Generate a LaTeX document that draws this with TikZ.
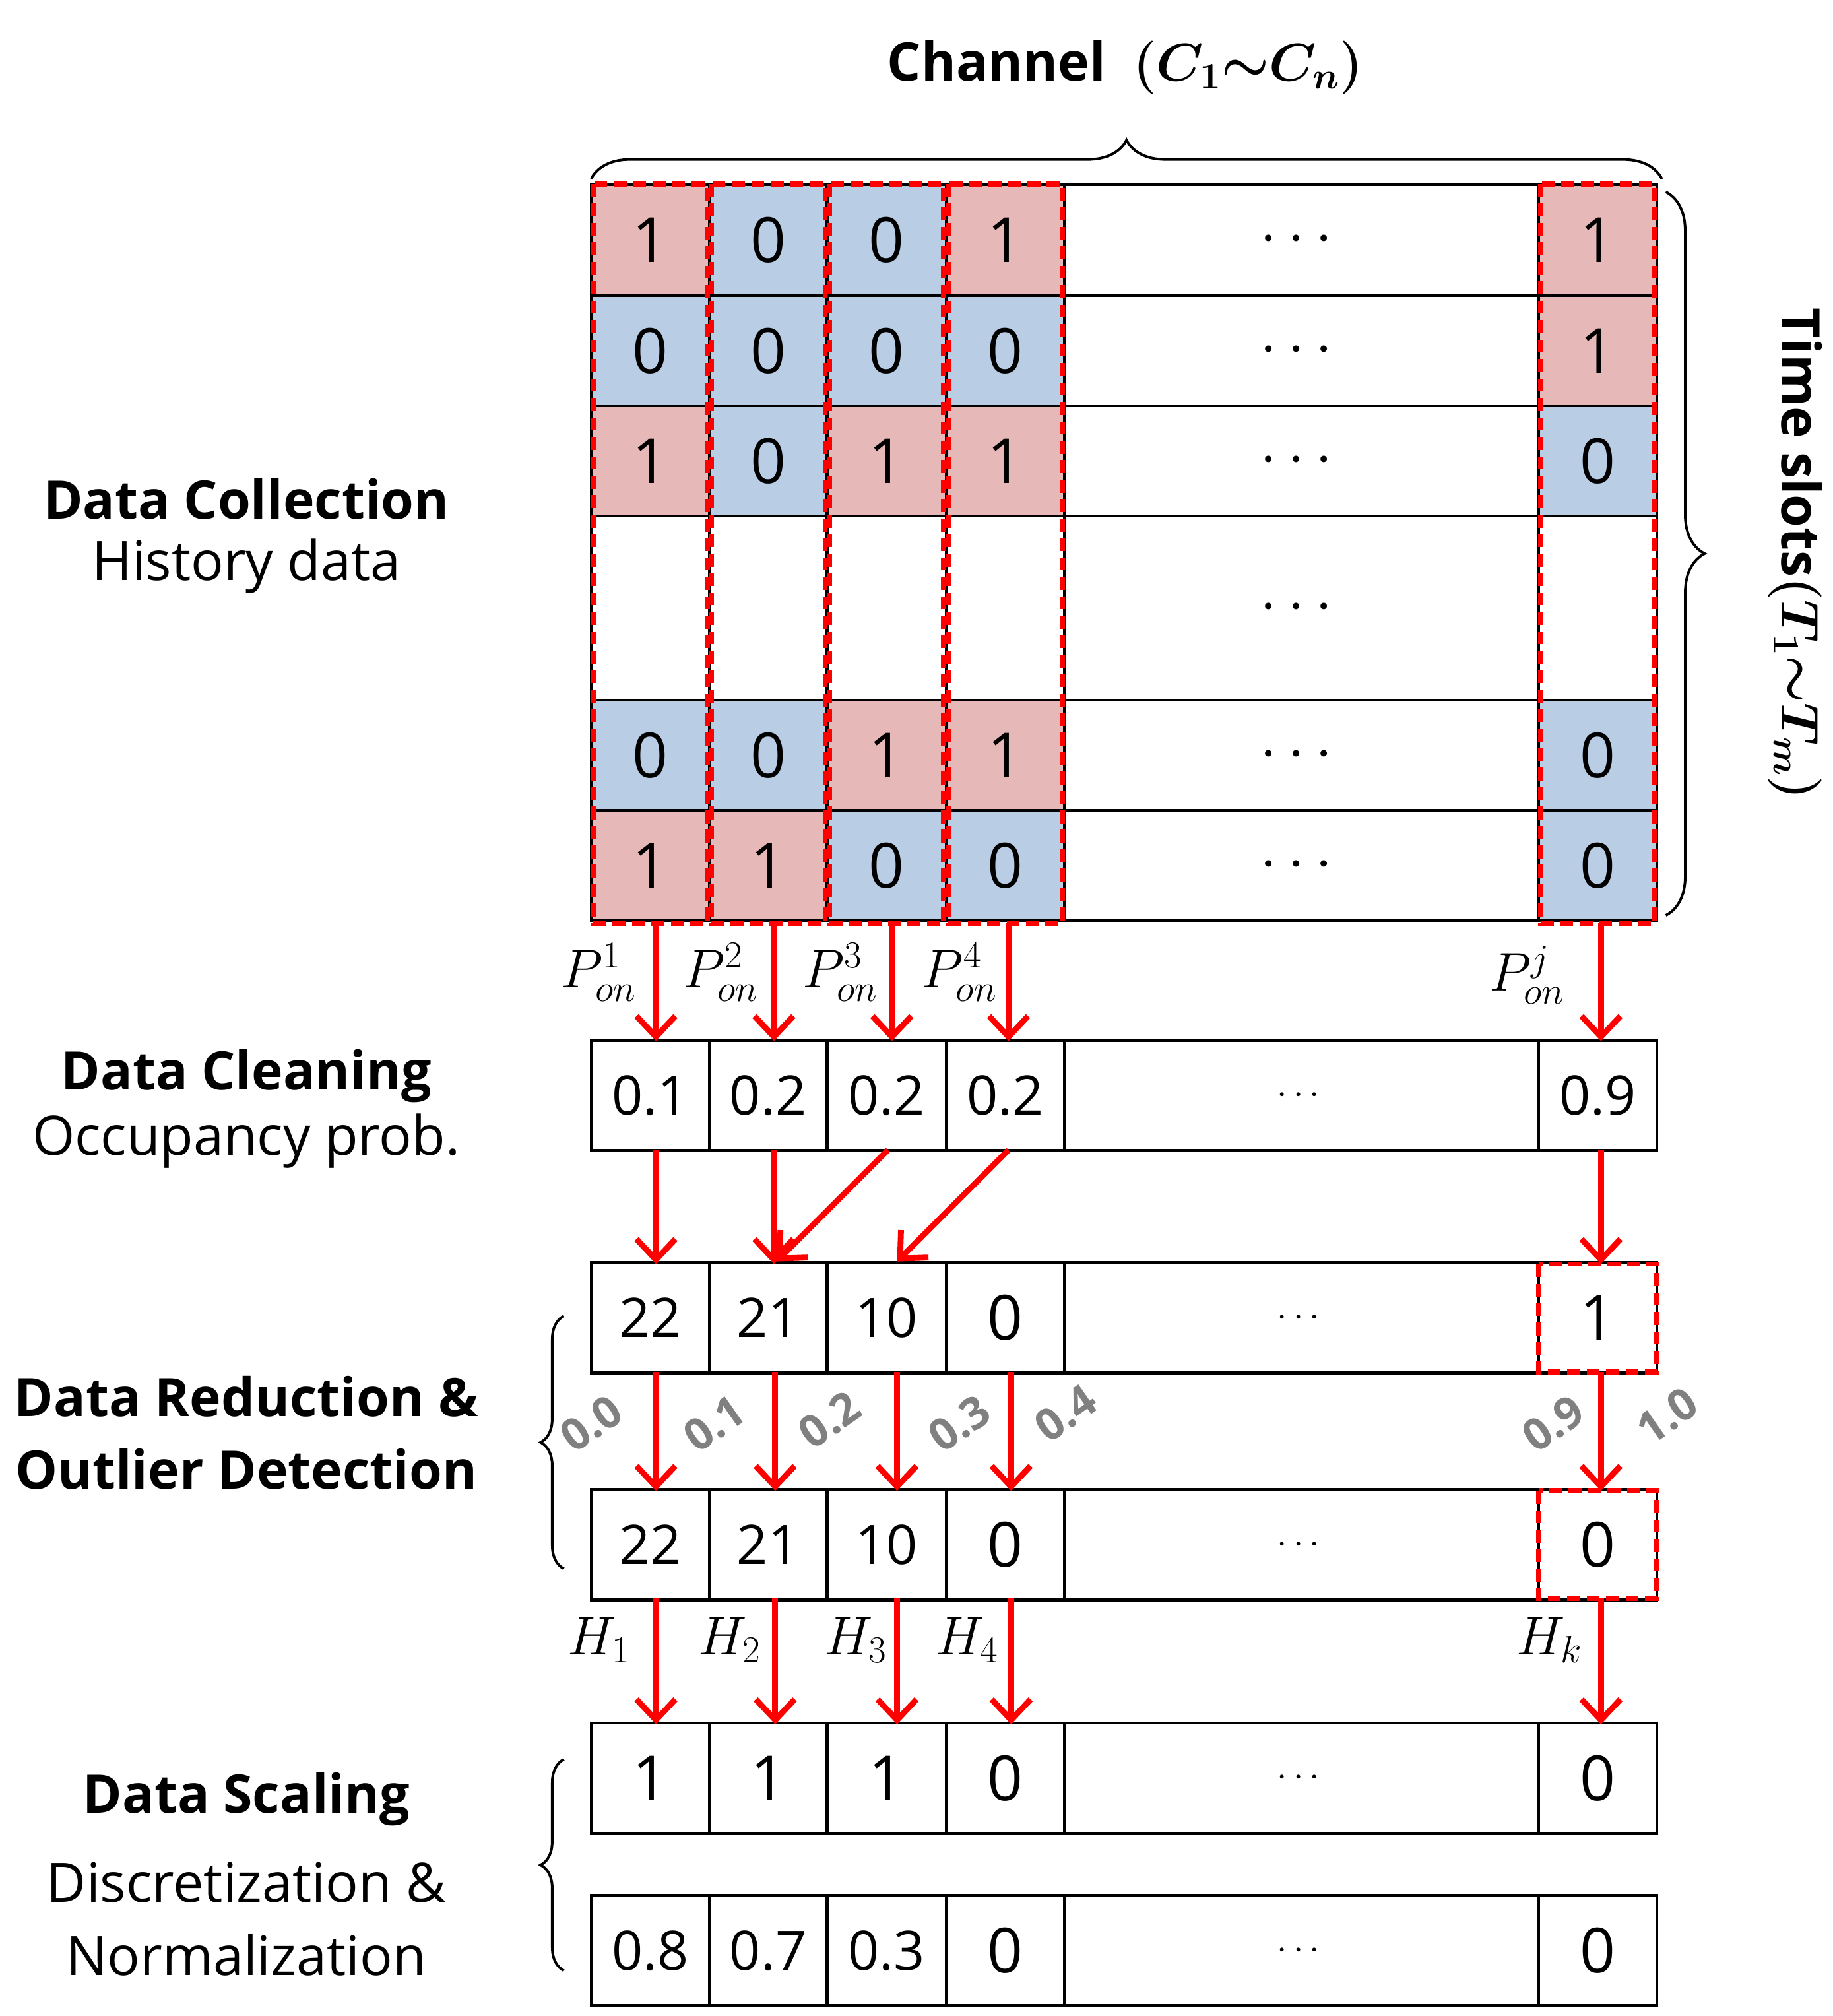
\RequirePackage{fix-cm}
\documentclass[tikz,border=0pt]{standalone}
\usepackage{amsmath,bm}
\usepackage{fontspec}
\setmainfont{Open Sans}
\usetikzlibrary{decorations.pathreplacing,arrows.meta}
\definecolor{pk}{HTML}{E6B9B8}
\definecolor{bl}{HTML}{B9CDE5}
\definecolor{rd}{HTML}{FF0000}
\begin{document}
\begin{tikzpicture}[x=1pt,y=-1pt,
 cell/.style={draw,line width=2.2pt,inner sep=0,minimum height=#1,font=\fontsize{48}{56}\selectfont},
 cell/.default=85,
 arr/.style={draw=rd,line width=4.5pt,-{Straight Barb[length=16pt,width=30pt,line width=4.5pt]}},
 dbox/.style={draw=rd,line width=4pt,dash pattern=on 10pt off 5pt},
 lab/.style={font=\fontsize{42}{52}\selectfont},
 labb/.style={font=\fontsize{41}{52}\selectfont\bfseries},
 gl/.style={text=gray,font=\fontsize{34}{40}\selectfont\bfseries,rotate=35},
 ml/.style={font=\fontsize{42}{48}\selectfont},
 br/.style={draw,line width=2pt,decorate,decoration={brace,amplitude=#1}},
 br/.default=18pt]
\useasboundingbox (0,0) rectangle (1414,1555);
\def\xs{{501.5,592.5,684,775.5,1004,1232.5}}
\def\ws{{91,91,92,91,366,91}}
\def\gridrow#1#2#3#4{%
 \foreach \v/\fc [count=\i from 0] in {#4} {
   \pgfmathsetmacro\cx{\xs[\i]}\pgfmathsetmacro\cw{\ws[\i]}
   \node[cell=#3,minimum width=\cw,fill=\fc] (#1\i) at (\cx,#2) {\v};
 }}
\def\dd{$\cdots$}
\gridrow{ga}{185}{85}{1/pk,0/bl,0/bl,1/pk,\dd/white,1/pk}
\gridrow{gb}{270.5}{85}{0/bl,0/bl,0/bl,0/bl,\dd/white,1/pk}
\gridrow{gc}{355.5}{85}{1/pk,0/bl,1/pk,1/pk,\dd/white,0/bl}
\gridrow{gd}{469}{142}{{}/white,{}/white,{}/white,{}/white,\dd/white,{}/white}
\gridrow{ge}{582.5}{85}{0/bl,0/bl,1/pk,1/pk,\dd/white,0/bl}
\gridrow{gf}{667.5}{85}{1/pk,1/pk,0/bl,0/bl,\dd/white,0/bl}
\foreach \i in {0,1,2,3,5}{
 \pgfmathsetmacro\cx{\xs[\i]}
 \draw[dbox] (\cx-44,142) rectangle (\cx+44,712);}
\def\plainrow#1#2#3{\foreach \v [count=\i from 0] in {#3} {
   \pgfmathsetmacro\cx{\xs[\i]}\pgfmathsetmacro\cw{\ws[\i]}
   \node[cell,minimum width=\cw,fill=white] (#1\i) at (\cx,#2) {\v};}}
\def\ds{{\fontsize{28}{30}\selectfont$\cdots$}}
\def\n#1{{\fontsize{42}{48}\selectfont #1}}
\plainrow{cl}{845}{\n{0.1},\n{0.2},\n{0.2},\n{0.2},\ds,\n{0.9}}
\plainrow{ra}{1016.5}{\n{22},\n{21},\n{10},0,\ds,1}
\plainrow{rb}{1191.5}{\n{22},\n{21},\n{10},0,\ds,0}
\plainrow{sa}{1371.5}{1,1,1,0,\ds,0}
\plainrow{sb}{1504.5}{\n{0.8},\n{0.7},\n{0.3},0,\ds,0}
\draw[dbox] (1187,975) rectangle (1278,1058);
\draw[dbox] (1187,1150) rectangle (1278,1233);
\foreach \i/\x in {0/506,1/597,2/688,3/778,5/1235}{
 \coordinate (t\i) at (\x,712); \coordinate (u\i) at (\x,803);
 \draw[arr] (t\i) -- (u\i);}
\node[ml] at (462,750) {$P_{on}^{1}$};
\node[ml] at (556,750) {$P_{on}^{2}$};
\node[ml] at (648,750) {$P_{on}^{3}$};
\node[ml] at (740,750) {$P_{on}^{4}$};
\node[ml] at (1178,752) {$P_{on}^{j}$};
\coordinate (c0) at (506,887); \coordinate (d0) at (506,975);
\coordinate (c1) at (597,887); \coordinate (d1) at (597,975);
\coordinate (c2) at (685,887); \coordinate (d2) at (599,973);
\coordinate (c3) at (778,887); \coordinate (d3) at (692,973);
\coordinate (c5) at (1235,887); \coordinate (d5) at (1235,975);
\foreach \i in {0,1,2,3,5}{\draw[arr] (c\i) -- (d\i);}
\foreach \i/\x in {0/506,1/598,2/692,3/780,5/1235}{
 \coordinate (e\i) at (\x,1058); \coordinate (f\i) at (\x,1150);
 \draw[arr] (e\i) -- (f\i);
 \coordinate (h\i) at (\x,1233); \coordinate (k\i) at (\x,1330);
 \draw[arr] (h\i) -- (k\i);}
\node[gl] at (456,1098) {0.0};
\node[gl] at (551,1098) {0.1};
\node[gl] at (640,1095) {0.2};
\node[gl] at (740,1098) {0.3};
\node[gl] at (822,1090) {0.4};
\node[gl] at (1198,1098) {0.9};
\node[gl] at (1286,1092) {1.0};
\node[ml] at (462,1265) {$H_1$};
\node[ml] at (563,1265) {$H_2$};
\node[ml] at (660,1265) {$H_3$};
\node[ml] at (746,1265) {$H_4$};
\node[ml] at (1195,1265) {$H_k$};
\draw[br=30pt] (456,138) -- (1282,138);
\node[labb] (ch) at (868,52) {Channel\ \ $\bm{(C_1{\sim}C_n)}$};
\draw[br=30pt] (1285,148) -- (1285,706);
\node[labb,rotate=-90] (ts) at (1385,427) {Time slots$\bm{(T_1{\sim}T_m)}$};
\draw[br] (435,1210) -- (435,1015);
\draw[br] (435,1520) -- (435,1357);
\node[labb] at (190,385) {Data Collection};
\node[lab] at (190,437) {History data};
\node[labb] at (190,830) {Data Cleaning};
\node[lab] at (190,880) {Occupancy prob.};
\node[labb] at (190,1077) {Data Reduction \&};
\node[labb] at (190,1133) {Outlier Detection};
\node[labb] at (190,1388) {Data Scaling};
\node[lab] at (190,1452) {Discretization \&};
\node[lab] at (190,1508) {Normalization};
\end{tikzpicture}
\end{document}
